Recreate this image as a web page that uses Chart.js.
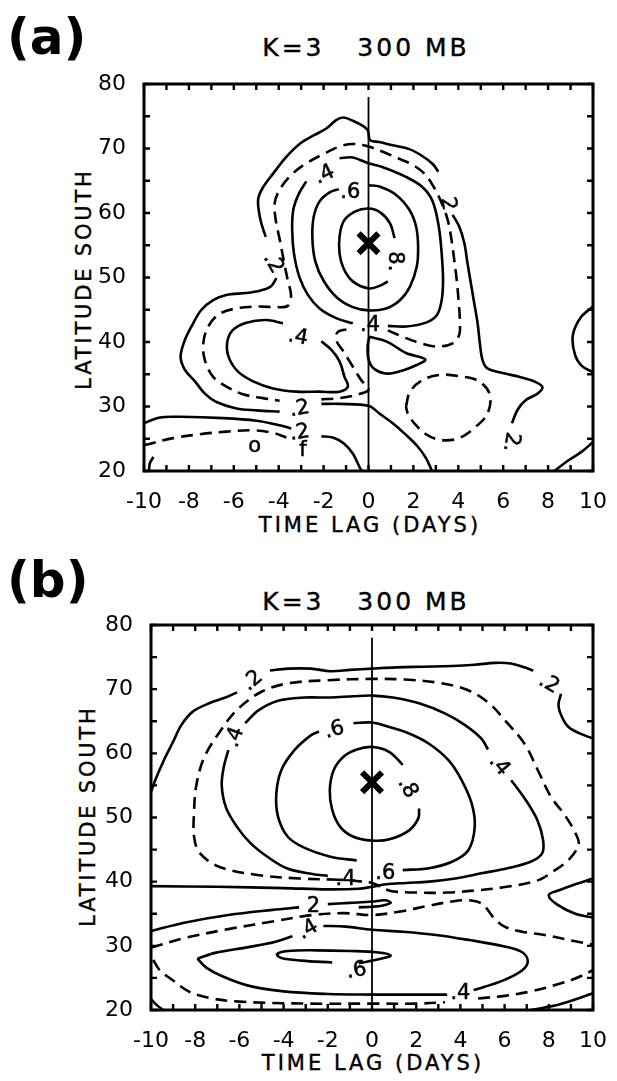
<!DOCTYPE html>
<html>
<head>
<meta charset="utf-8">
<script src="https://cdn.jsdelivr.net/npm/chart.js@4.4.1/dist/chart.umd.min.js"></script>
<style>
  body { margin: 0; background: #fff; }
  #page { position: relative; width: 617px; height: 1081px; overflow: hidden; font-family: "DejaVu Sans", sans-serif; color: #000; }
  canvas { position: absolute; left: 0; }
  .txt { position: absolute; white-space: pre; line-height: 1; -webkit-text-stroke: 0.4px #000; }
  .panel { font-size: 50px; font-weight: bold; -webkit-text-stroke: 0; }
  .title { font-size: 25px; letter-spacing: 3px; transform: translate(-50%, -50%); }
  .xtitle { font-size: 21px; letter-spacing: 3px; transform: translate(-50%, -50%); }
  .ytitle { font-size: 21px; letter-spacing: 2.8px; transform: translate(-50%, -50%) rotate(-90deg); }
</style>
</head>
<body>
<div id="page">
  <div class="txt panel" style="left:7px; top:12px;">(a)</div>
  <div class="txt title" style="left:366px; top:47px;">K=3   300 MB</div>
  <div class="txt xtitle" style="left:370px; top:525px;">TIME LAG (DAYS)</div>
  <div class="txt ytitle" style="left:84px; top:279px;">LATITUDE SOUTH</div>
  <div class="txt panel" style="left:7px; top:555px;">(b)</div>
  <div class="txt title" style="left:366px; top:601px;">K=3   300 MB</div>
  <div class="txt xtitle" style="left:373px; top:1063px;">TIME LAG (DAYS)</div>
  <div class="txt ytitle" style="left:88px; top:816px;">LATITUDE SOUTH</div>
  <canvas id="chartA" width="617" height="540" style="top:0"></canvas>
  <canvas id="chartB" width="617" height="541" style="top:540px"></canvas>
</div>
<script>
const xTickLabels = [-10, -8, -6, -4, -2, 0, 2, 4, 6, 8, 10];
const yTickLabels = [20, 30, 40, 50, 60, 70, 80];
const zeroLine = [[0, 78], [0, 20]];

// panel (a): contour lines as [time lag, latitude]
const aStar = [0, 55.3];
const aOuterTop = [[-4.58,56.3],[-4.81,58.9],[-4.92,62.0],[-4.73,63.8],[-4.25,66.1],[-3.66,68.7],[-3.07,70.7],[-2.40,72.1],[-1.88,73.1],[-1.44,74.4],[-1.11,74.8],[-0.70,74.3],[-0.25,73.5],[-0.03,72.8],[0.07,71.3],[0.49,71.0],[1.08,70.5],[1.82,69.9],[2.41,68.8],[2.86,67.6],[3.11,66.4]];
const aOuterRight = [[3.75,59.7],[4.04,57.9],[4.27,55.3],[4.41,52.2],[4.56,49.1],[4.71,46.0],[4.86,42.9],[4.96,39.8],[5.08,37.2],[5.30,35.9],[5.97,35.2],[6.71,34.6],[7.38,33.9],[7.75,33.0],[7.53,32.0],[7.01,31.0],[6.64,29.5],[6.39,27.4]];
const aOuterLoop = [[-4.1,49.9],[-4.35,48.6],[-4.8,48.0],[-5.44,47.6],[-6.33,47.3],[-6.92,46.5],[-7.44,45.0],[-7.81,42.9],[-8.18,40.3],[-8.37,37.7],[-8.18,35.7],[-7.73,33.9],[-7.29,32.0],[-6.77,30.7],[-5.88,29.7],[-4.99,29.4],[-3.96,29.2]];
const aBottomMid = [[-2.10,30.4],[-1.29,30.4],[0,30.1],[0.49,28.9],[1.08,27.4],[1.67,25.6],[2.19,23.8],[2.56,22.0],[2.83,20.0]];
const aRing04 = [[-1.29,68.5],[-0.70,68.6],[0,67.7],[0.64,67.1],[1.67,65.6],[2.41,64.0],[2.86,61.8],[3.13,57.9],[3.26,53.7],[3.32,49.6],[3.26,46.5],[3.05,44.2],[2.56,43.0],[1.67,42.4],[0.86,42.5]];
const aRing04b = [[-0.70,42.9],[-1.44,43.7],[-2.18,45.2],[-2.7,47.3],[-3.08,50.1],[-3.32,53.7],[-3.4,57.4],[-3.35,60.5],[-3.1,63.0],[-2.77,64.9]];
const aRing06 = [[0,64.3],[0.49,64.1],[1.23,62.8],[1.82,60.5],[2.12,57.9],[2.21,54.8],[2.15,51.7],[1.85,48.6],[1.41,46.5],[0.79,45.2],[0,44.9],[-0.70,45.4],[-1.41,46.9],[-2.0,49.5],[-2.37,52.5],[-2.50,56.1],[-2.44,59.4],[-2.18,61.8],[-1.73,63.2],[-1.32,63.7]];
const aRing08 = [[1.16,56.1],[0.96,58.4],[0.52,60.1],[0,60.7],[-0.61,60.2],[-1.11,58.7],[-1.29,56.3],[-1.29,53.7],[-1.11,51.4],[-0.70,49.4],[0,48.3],[0.49,48.7],[0.86,49.4]];
const aLoop04 = [[-2.10,40.1],[-1.66,38.8],[-1.29,37.0],[-1.07,34.6],[-0.92,33.1],[-1.29,32.3],[-2.18,32.3],[-3.21,32.3],[-4.25,32.8],[-5.14,33.9],[-5.81,35.4],[-6.21,37.5],[-6.30,39.8],[-6.06,41.8],[-5.44,43.0],[-4.55,43.4],[-3.81,42.9]];
const aTeardrop = [[0.04,40.8],[0.79,40.1],[1.67,38.3],[2.53,37.3],[2.12,36.4],[1.53,35.6],[0.86,35.1],[0.27,35.8],[0.01,37.2],[-0.04,39.3],[0.04,40.8]];
const aBottomLeft = [[-10,27.4],[-9.29,28.3],[-8.40,28.4],[-6.47,28.2],[-4.99,27.8],[-3.96,27.1],[-3.44,26.6]];
const aBottomLeft2 = [[-2.10,25.4],[-1.59,25.2],[-1.11,24.3],[-0.70,22.7],[-0.37,20.4],[-0.28,20]];
const aCornerLeft = [[-9.78,20],[-9.74,21.2],[-9.58,22.2]];
const aCornerRight = [[8.27,20],[8.93,21.7],[9.5,23.0],[10,24.5]];
const aEdgeArc = [[10,45.5],[9.45,43.8],[9.1,41],[9.2,38],[9.5,36.3],[10,35.3]];
// dashed
const aRing03 = [[0.86,41.8],[1.60,40.7],[2.34,39.8],[3.08,39.3],[3.75,39.8],[4.04,41.1],[4.07,43.4],[4.01,46.5],[3.93,49.6],[3.82,52.7],[3.70,55.8],[3.53,58.9],[3.23,61.8],[2.86,64.3],[2.49,66.1],[1.90,67.6],[1.23,68.6],[0.64,69.5],[0,70.3],[-0.70,70.7],[-1.29,70.3],[-2.03,69.1],[-2.77,67.7],[-3.44,65.9],[-3.96,63.6],[-4.18,61.5],[-4.13,58.9],[-3.95,55.8],[-3.78,52.7],[-3.6,49.6],[-3.45,47.2],[-3.6,45.6],[-4.1,45.4],[-4.84,45.5],[-5.73,45.3],[-6.62,44.4],[-7.14,42.4],[-7.36,39.8],[-7.29,37.2],[-6.92,34.6],[-6.33,33.1],[-5.59,31.9],[-4.70,31.3],[-3.96,30.9]];
const aRing03b = [[-2.10,31.1],[-1.29,31.3],[-0.55,31.8],[0,32.6],[-0.33,34.1],[-0.70,36.2],[-1.11,38.5],[-1.44,40.3],[-1.36,41.6],[-0.84,42.0]];
const aEllipse = [[1.67,30.0],[1.85,32.3],[2.41,34.1],[3.16,34.9],[4.04,34.7],[4.93,33.9],[5.41,31.8],[5.30,28.9],[4.79,26.9],[4.04,25.1],[3.23,24.8],[2.56,25.7],[2.04,27.4],[1.75,28.9],[1.67,30.0]];
const aBottomDash = [[-10,24.0],[-8.70,25.1],[-7.51,25.7],[-6.33,26.1],[-5.14,26.3],[-4.25,25.9],[-3.66,25.2]];
// contour labels [x, y, text, rotation]
const aLabels = [[-1.96,65.9,'.4',-25],[-0.81,63.2,'.6',0],[1.16,52.5,'8.',90],[3.53,61.4,'2',80],[-4.25,52.2,'.2',60],[-3.14,40.7,'.4',10],[0.07,42.5,'.4',0],[-3.07,29.6,'.2',-10],[-3.07,25.9,'.2',-10],[6.34,24.5,'2.',100],[-5.07,23.8,'o',0],[-2.92,23.2,'f',0]];

// panel (b)
const bStar = [0, 55.5];
const bOuterLeft = [[-10,54.0],[-9.75,56.3],[-9.38,59.2],[-9.0,61.8],[-8.63,64.4],[-8.11,66.5],[-7.37,67.8],[-6.63,68.7],[-6.1,69.5]];
const bOuterTop = [[-4.62,72.9],[-3.81,73.2],[-2.77,73.2],[-1.88,72.8],[-0.99,73.0],[0,73.2],[1.09,73.4],[2.28,73.5],[3.62,73.6],[4.65,73.8],[5.55,74.1],[6.29,74.0],[6.88,73.4],[7.30,72.9]];
const bOuterRight = [[8.55,69.3],[8.44,67.5],[8.59,65.7],[8.89,64.1],[9.4,63.1],[10,62.3]];
const bRing04 = [[-5.74,64.7],[-5.14,66.7],[-4.25,68.2],[-3.07,68.7],[-1.88,68.7],[-0.84,68.9],[0,69.0],[0.94,68.7],[2.13,67.8],[3.32,66.2],[4.21,64.4],[4.95,62.3],[5.25,60.6]];
const bRing04r = [[6.3,55.8],[6.96,52.7],[7.48,49.6],[7.74,46.5],[7.7,44.4],[7.18,43.1],[6.14,42.1],[4.95,41.3],[3.76,40.5],[2.58,40.0],[1.54,39.8],[0.64,39.6],[0,39.2],[-0.6,38.9],[-2,38.8],[-4,39.0],[-7,39.2],[-10,39.3]];
const bRing04l = [[-6.5,60.5],[-6.7,58],[-6.8,55],[-6.6,51.5],[-6.1,48.5],[-5.5,46],[-4.7,43.8],[-3.8,42.0],[-2.7,41.2],[-2.0,40.9]];
const bRing06 = [[-0.84,64.7],[0,64.8],[0.79,64.1],[1.68,63.1],[2.58,61.5],[3.47,58.9],[4.06,55.8],[4.51,52.2],[4.65,48.6],[4.36,44.9],[3.62,43.1],[2.58,42.1],[1.39,41.8]];
const bRing06b = [[-0.69,43.3],[-1.88,43.9],[-3.07,45.3],[-3.81,47.0],[-4.25,50.1],[-4.33,53.7],[-4.1,57.4],[-3.51,60.5],[-2.77,62.8],[-2.40,63.4]];
const bRing08 = [[2.13,51.4],[2.1,49.9],[1.68,48.0],[0.79,46.6],[0,46.4],[-0.84,47.0],[-1.43,48.5],[-1.80,51.2],[-1.91,54.3],[-1.73,57.4],[-1.28,59.5],[-0.69,60.6],[0,61.0],[0.79,60.2],[1.39,58.2]];
const bLow02 = [[-10,32.3],[-8.5,33.6],[-6.5,34.8],[-4.5,35.6],[-3.3,36.0]];
const bLow02b = [[-2.0,36.5],[-1.0,36.7],[0,36.9],[0.6,37.1],[0.85,36.7],[0.5,36.3],[0,36.1],[-0.6,36.0]];
const bLow04 = [[-7.9,28.0],[-7.1,28.9],[-5.6,29.8],[-4.4,30.6],[-3.6,31.5]];
const bLow04b = [[-2.2,33.1],[-1.2,33.0],[0,32.5],[1.4,32.2],[2.9,31.7],[4.4,30.9],[6.0,29.9],[6.8,29.0],[7.05,27.6],[6.8,26.2],[6.0,24.7],[5.0,23.5],[4.6,23.1]];
const bLow04c = [[3.4,22.4],[1.5,22.4],[0,22.4],[-2,22.5],[-4,22.9],[-5.6,23.8],[-6.8,25.3],[-7.5,26.6],[-7.9,28.0]];
const bLow06 = [[-0.6,27.3],[0.3,27.9],[0.85,28.5],[0.2,29.0],[-1.0,29.2],[-2.5,29.3],[-3.8,29.2],[-4.3,28.7],[-4.1,28.1],[-3.2,27.7],[-1.8,27.4]];
const bCornerLeft = [[-10,21.7],[-9.75,20.8],[-9.45,20]];
const bCornerRight = [[7.2,20],[8.5,20.9],[10,22.6]];
const bEdgeLens = [[10,40.5],[9.2,39.6],[8.5,38.7],[8.0,37.9],[8.35,36.5],[9.2,35.0],[10,34.4]];
// dashed
const bRing03 = [[-1.5,40.3],[-3.3,40.5],[-5.1,41.0],[-6.9,42.3],[-7.8,44.5],[-8.05,47],[-8.05,51],[-7.95,55],[-7.6,59.3],[-6.9,63.3],[-6.1,66.8],[-5.0,69.6],[-3.8,70.9],[-2,71.4],[0,71.6],[1.5,71.5],[3.0,71.0],[4.3,69.9],[5.3,67.8],[6.0,65.2],[6.9,61.5],[7.5,57.4],[8.1,53.2],[8.7,50.5],[9.2,47.6],[9.35,45.8],[8.9,43.4],[8.2,41.6],[7.5,40.2],[6.1,39.2],[4.6,38.6],[3.4,38.3],[2.0,38.3],[0.8,38.6],[0,39.8],[-0.7,40.1],[-1.5,40.3]];
const bMid = [[-10,29.7],[-8.5,31.2],[-6.5,32.6],[-4.5,33.8],[-2.7,34.8],[-1.3,35.1],[0,34.8],[1.2,35.3],[2.5,36.2],[3.6,36.9],[4.4,37.1],[5.0,36.5],[5.5,34.4],[6.0,33.0],[6.8,32.2],[7.8,31.7],[9.2,30.7],[10,30.2]];
const bLowDash = [[-9.9,27.8],[-9.6,26.2],[-9.0,24.6],[-8.3,22.9],[-7.4,21.9],[-6,21.3],[-3,21.0],[0,21.0],[2,21.0],[3.3,21.2]];
const bLowDash2 = [[4.8,21.8],[6,22.2],[7.2,22.9],[8.4,24.0],[9.2,24.9],[10,26.2]];
const bLabels = [[-5.4,71.3,'.2',-40],[8.0,70.8,'.2',30],[-6.2,62.5,'.4',-70],[-1.7,63.6,'.6',-15],[1.6,54.6,'.8',60],[5.75,58.1,'.4',50],[0.6,41.3,'.6',0],[-1.2,40.3,'.4',0],[-2.65,36.2,'2',0],[-2.9,32.5,'.4',-30],[-0.7,26.1,'.6',-10],[4.0,22.6,'.4',0]];

function series(points, dashed, width) {
    return {
        data: points.map(([x, y]) => ({x, y})),
        showLine: true,
        fill: false,
        borderColor: '#000',
        borderWidth: width || 2.6,
        borderDash: dashed ? [12, 7] : [],
        pointRadius: 0,
        tension: 0.35
    };
}

// box frame, inward ticks and contour labels
function framePlugin(labels) {
    return {
        id: 'frame',
        afterDatasetsDraw(chart) {
            const {ctx, chartArea: a, scales: {x, y}} = chart;
            ctx.save();
            ctx.strokeStyle = '#000';
            ctx.lineWidth = 2.4;
            ctx.beginPath();
            for (let v = -10; v <= 10; v++) {
                const px = x.getPixelForValue(v);
                ctx.moveTo(px, a.top); ctx.lineTo(px, a.top + 6);
                ctx.moveTo(px, a.bottom); ctx.lineTo(px, a.bottom - 6);
            }
            for (let v = 20; v <= 80; v += 5) {
                const py = y.getPixelForValue(v);
                ctx.moveTo(a.left, py); ctx.lineTo(a.left + 6, py);
                ctx.moveTo(a.right, py); ctx.lineTo(a.right - 6, py);
            }
            ctx.stroke();
            ctx.lineWidth = 3;
            ctx.strokeRect(a.left, a.top, a.right - a.left, a.bottom - a.top);
            ctx.fillStyle = '#000';
            ctx.lineWidth = 0.5;
            ctx.font = '21px "DejaVu Sans"';
            ctx.textAlign = 'center';
            ctx.textBaseline = 'middle';
            labels.forEach(([lx, ly, text, rot]) => {
                ctx.save();
                ctx.translate(x.getPixelForValue(lx), y.getPixelForValue(ly));
                ctx.rotate(rot * Math.PI / 180);
                ctx.fillText(text, 0, 0);
                ctx.strokeText(text, 0, 0);
                ctx.restore();
            });
            ctx.restore();
        }
    };
}

function makePanel(id, solid, dashed, star, labels, box) {
    const datasets = [series(zeroLine, false, 1.8)];
    solid.forEach(p => datasets.push(series(p, false)));
    dashed.forEach(p => datasets.push(series(p, true)));
    datasets.push({
        data: [{x: star[0], y: star[1]}],
        showLine: false,
        pointStyle: 'crossRot',
        pointRadius: 14,
        pointBorderWidth: 6,
        borderColor: '#000',
        backgroundColor: '#000'
    });
    const tickFont = {family: 'DejaVu Sans', size: 22};
    new Chart(document.getElementById(id), {
        type: 'scatter',
        data: {datasets},
        options: {
            responsive: false,
            animation: false,
            events: [],
            layout: {padding: {left: 0, top: box.top, right: box.width - box.right, bottom: 0}},
            plugins: {legend: {display: false}, tooltip: {enabled: false}},
            scales: {
                x: {
                    type: 'linear', min: -10, max: 10,
                    afterFit: s => { s.height = box.height - box.bottom; },
                    grid: {display: false},
                    border: {display: false},
                    ticks: {
                        stepSize: 2, autoSkip: false, maxRotation: 0, padding: 10,
                        color: '#000', font: tickFont,
                        callback: v => xTickLabels.includes(Math.round(v)) ? String(Math.round(v)) : ''
                    }
                },
                y: {
                    type: 'linear', min: 20, max: 80,
                    afterFit: s => { s.width = box.left; },
                    grid: {display: false},
                    border: {display: false},
                    ticks: {
                        stepSize: 10, autoSkip: false, padding: 10,
                        color: '#000', font: tickFont,
                        callback: v => yTickLabels.includes(Math.round(v)) ? String(Math.round(v)) : ''
                    }
                }
            }
        },
        plugins: [framePlugin(labels)]
    });
}

document.addEventListener('DOMContentLoaded', function () {
    makePanel('chartA',
        [aOuterTop, aOuterRight, aOuterLoop, aBottomMid, aRing04, aRing04b, aRing06, aRing08, aLoop04, aTeardrop, aBottomLeft, aBottomLeft2, aCornerLeft, aCornerRight, aEdgeArc],
        [aRing03, aRing03b, aEllipse, aBottomDash],
        aStar, aLabels,
        {width: 617, height: 540, left: 144, right: 594, top: 84, bottom: 471});
    makePanel('chartB',
        [bOuterLeft, bOuterTop, bOuterRight, bRing04, bRing04r, bRing04l, bRing06, bRing06b, bRing08, bLow02, bLow02b, bLow04, bLow04b, bLow04c, bLow06, bCornerLeft, bCornerRight, bEdgeLens],
        [bRing03, bMid, bLowDash, bLowDash2],
        bStar, bLabels,
        {width: 617, height: 541, left: 151, right: 600, top: 85, bottom: 470});
});
</script>
</body>
</html>
